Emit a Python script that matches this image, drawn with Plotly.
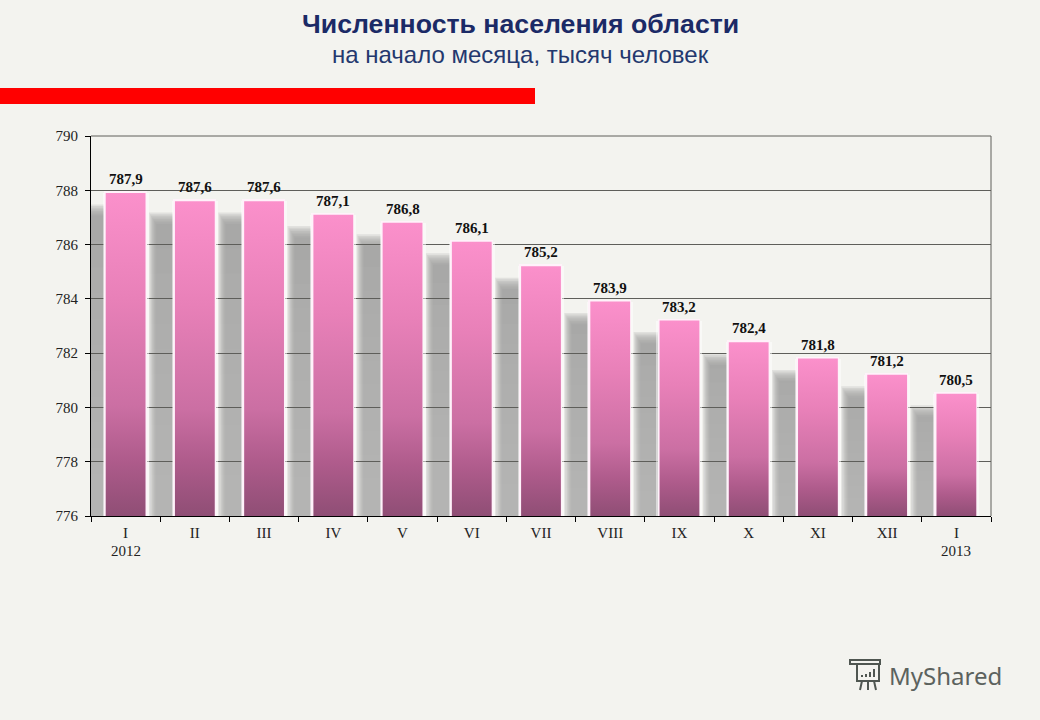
import plotly.graph_objects as go

months = ["I", "II", "III", "IV", "V", "VI", "VII", "VIII", "IX", "X", "XI", "XII", "I"]
years = {0: "2012", 12: "2013"}
values = [787.9, 787.6, 787.6, 787.1, 786.8, 786.1, 785.2, 783.9, 783.2, 782.4, 781.8, 781.2, 780.5]
y_ticks = [776, 778, 780, 782, 784, 786, 788, 790]

W, H = 1040, 720
L, R, T, B = 91, 991, 136, 516
BG = "#F3F3EF"
GRID = "#5E5E5A"
SERIF = "Liberation Serif"
SANS = "Liberation Sans"
BASE = 776
BAR_W = 0.575
x_pos = list(range(len(values)))
labels = [f"{v:.1f}".replace(".", ",") for v in values]


def px(x, y):
    return (x - L) / (R - L), (B - y) / (B - T)


fig = go.Figure()

# soft shadow behind each bar, below the gridlines
for x, v in zip(x_pos, values):
    for k in range(8):
        fig.add_shape(type="rect", xref="x", yref="y", layer="below",
                      x0=x - 0.375 - BAR_W / 2 + k * 0.015, x1=x - 0.375 + BAR_W / 2,
                      y0=BASE, y1=v - 0.42 - k * 0.06,
                      fillcolor="#9B9C9B", opacity=0.2, line_width=0)
    for n in range(10):
        fig.add_shape(type="rect", xref="x", yref="y", layer="below",
                      x0=x - 0.375 - BAR_W / 2, x1=x - 0.375 + BAR_W / 2,
                      y0=BASE, y1=BASE + (v - BASE) * (0.85 - n * 0.08),
                      fillcolor="#ECEFEE", opacity=0.025, line_width=0)

# outer glow, then rim, then gradient body of each bar
fig.add_trace(go.Bar(x=x_pos, y=values, width=BAR_W + 0.09, opacity=0.5,
                     marker=dict(color="#FFFFFF", line_width=0), hoverinfo="skip", showlegend=False))
fig.add_trace(go.Bar(x=x_pos, y=values, width=BAR_W,
                     marker=dict(color="#F48CC4", line=dict(color="#FFF2FA", width=3)),
                     hoverinfo="skip", showlegend=False))

for x, v in zip(x_pos, values):
    fig.add_trace(go.Scatter(
        x=[x - BAR_W / 2, x + BAR_W / 2, x + BAR_W / 2, x - BAR_W / 2, x - BAR_W / 2],
        y=[BASE, BASE, v, v, BASE], mode="lines", line=dict(width=0), fill="toself",
        fillgradient=dict(type="vertical",
                          colorscale=[[0, "#8F4E75"], [0.17, "#AE5B8B"], [0.34, "#CB6FA3"],
                                      [0.67, "#E880B8"], [1, "#FB90CB"]]),
        hoverinfo="skip", showlegend=False))

for x, v, t in zip(x_pos, values, labels):
    fig.add_annotation(x=x, y=v, xref="x", yref="y", text=f"<b>{t}</b>", showarrow=False, yshift=14,
                       font=dict(family=SERIF, size=15, color="#111111"))

fig.update_layout(
    width=W, height=H, autosize=False,
    margin=dict(l=L, r=W - R, t=T, b=H - B, pad=0),
    paper_bgcolor=BG, plot_bgcolor="rgba(0,0,0,0)",
    barmode="overlay", bargap=0, showlegend=False,
    font=dict(family=SERIF, size=15, color="#222222"),
    xaxis=dict(range=[-0.5, len(values) - 0.5], tickmode="array", tickvals=x_pos, ticktext=months,
               ticks="", showgrid=False, zeroline=False, showline=True, linecolor="#000000", linewidth=1,
               tickfont=dict(family=SERIF, size=15, color="#222222"), ticklabelstandoff=3,
               minor=dict(tickmode="array", tickvals=[i - 0.5 for i in range(len(values) + 1)],
                          ticks="outside", ticklen=5, tickcolor="#000000", tickwidth=1, showgrid=False)),
    yaxis=dict(range=[BASE, 790], tickmode="array", tickvals=y_ticks, showgrid=True,
               gridcolor=GRID, gridwidth=1, zeroline=False, showline=True, linecolor="#000000",
               linewidth=1, ticks="outside", ticklen=5, tickcolor="#000000", ticklabelstandoff=4,
               tickfont=dict(family=SERIF, size=15, color="#222222")),
)

# top and right border of the plot frame
fig.add_shape(type="line", xref="paper", yref="paper", x0=1, x1=1, y0=0, y1=1,
              line=dict(color=GRID, width=1))
fig.add_shape(type="line", xref="paper", yref="paper", x0=0, x1=1, y0=1, y1=1,
              line=dict(color=GRID, width=1))

# red rule under the title
x0, y0 = px(0, 104)
x1, y1 = px(535, 88)
fig.add_shape(type="rect", xref="paper", yref="paper", x0=x0, x1=x1, y0=y0, y1=y1,
              fillcolor="#FF0000", line_width=0)


def note(x, y, text, **kw):
    ax, ay = px(x, y)
    fig.add_annotation(x=ax, y=ay, xref="paper", yref="paper", text=text, showarrow=False,
                       xanchor=kw.pop("xanchor", "center"), yanchor="middle", **kw)


for i, year in years.items():
    fig.add_annotation(x=i, y=0, xref="x", yref="paper", yanchor="middle", yshift=-35, text=year,
                       showarrow=False, font=dict(family=SERIF, size=15, color="#222222"))

note(520, 24, "<b>Численность населения области</b>", font=dict(family=SANS, size=26.7, color="#1B2A66"))
note(520, 54, "на начало месяца, тысяч человек", font=dict(family=SANS, size=24, color="#24386E"))
note(887, 675, "MyShared", xanchor="left", font=dict(family="Noto Sans", size=24, color="#5C625E"))

# watermark pictogram
ICON = "#4F5651"
for a, b, c, d in [(857, 664, 879, 681), (850, 660, 880, 664)]:
    x0, y0 = px(a, d)
    x1, y1 = px(c, b)
    fig.add_shape(type="rect", xref="paper", yref="paper", x0=x0, x1=x1, y0=y0, y1=y1,
                  line=dict(color=ICON, width=2), fillcolor="rgba(0,0,0,0)")
for a, b, c, d in [(862, 681, 860, 690), (868, 681, 868, 690), (874, 681, 876, 690),
                   (862, 677, 862, 675), (866, 677, 866, 674), (870, 677, 870, 672), (874, 677, 874, 669)]:
    x0, y0 = px(a, b)
    x1, y1 = px(c, d)
    fig.add_shape(type="line", xref="paper", yref="paper", x0=x0, x1=x1, y0=y0, y1=y1,
                  line=dict(color=ICON, width=2))

fig.write_html("out.html", config={"displayModeBar": False},
               post_script=f"document.body.style.margin='0';document.body.style.background='{BG}';")
